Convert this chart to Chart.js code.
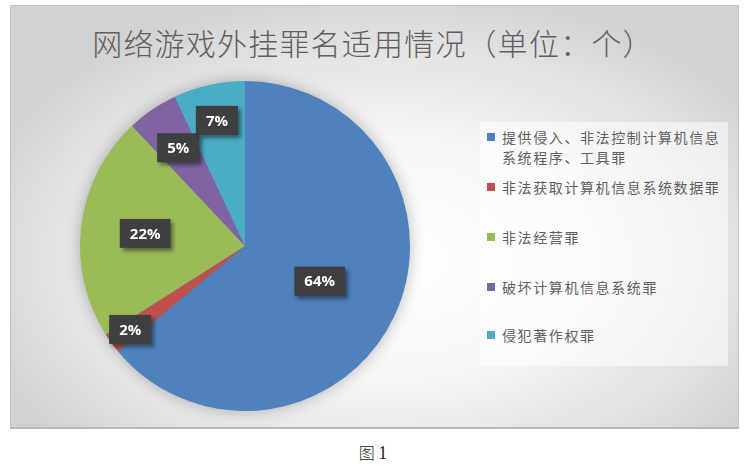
<!DOCTYPE html>
<html>
<head>
    <meta charset="utf-8">
    <title>网络游戏外挂罪名适用情况</title>
    <script src="https://cdn.jsdelivr.net/npm/chart.js"></script>
    <style>
        body {
            margin: 0;
            width: 746px;
            height: 469px;
            background: #fff;
            position: relative;
            overflow: hidden;
            font-family: "Noto Sans CJK SC", sans-serif;
        }
        .frame {
            position: absolute;
            left: 10px;
            top: 5px;
            width: 727px;
            height: 421px;
            border: 1px solid #c4c4c4;
            border-bottom: 2px solid #b8b8b8;
            background: radial-gradient(ellipse 60% 65% at 52% 60%, #ffffff 0%, #f6f6f6 45%, #e4e4e4 75%, #d2d2d2 100%);
        }
        .title {
            position: absolute;
            left: 0;
            width: 746px;
            top: 20px;
            text-align: center;
            font-size: 30px;
            letter-spacing: 1.2px;
            color: #5f5f5f;
            font-weight: 300;
        }
        .legend {
            position: absolute;
            left: 480px;
            top: 122px;
            width: 248px;
            height: 244px;
            background: rgba(255,255,255,0.55);
        }
        .legend-item {
            position: absolute;
            left: 22px;
            font-size: 14px;
            line-height: 20px;
            letter-spacing: 1.6px;
            color: #5f5f5f;
            width: 226px;
        }
        .legend-item i {
            position: absolute;
            left: -15px;
            top: 6px;
            width: 8px;
            height: 8px;
        }
        .caption {
            position: absolute;
            left: 0;
            width: 746px;
            top: 440px;
            text-align: center;
            font-size: 16px;
            font-weight: 300;
            color: #222;
        }
        .caption span { font-family: "Liberation Serif", serif; font-size: 18px; }
        #pie {
            position: absolute;
            left: 0;
            top: 0;
        }
    </style>
</head>
<body>
    <div class="frame"></div>
    <div class="title">网络游戏外挂罪名适用情况（单位：个）</div>
    <div class="legend" id="legend"></div>
    <div class="caption">图 <span>1</span></div>
    <canvas id="pie" width="746" height="469"></canvas>

    <script>
        const categories = ['提供侵入、非法控制计算机信息系统程序、工具罪', '非法获取计算机信息系统数据罪', '非法经营罪', '破坏计算机信息系统罪', '侵犯著作权罪'];
        const shares = [64, 2, 22, 5, 7];
        const colors = ['#4F81BD', '#C0504D', '#9BBB59', '#8064A2', '#4BACC6'];

        // where each data label sits, as a fraction of the radius (Excel best-fit look)
        const labelRadius = [0.5, 0.86, 0.61, 0.72, 0.78];
        const legendTops = [5, 55, 105, 155, 203];

        // html legend
        const legendEl = document.getElementById('legend');
        categories.forEach((c, i) => {
            const d = document.createElement('div');
            d.className = 'legend-item';
            d.style.top = legendTops[i] + 'px';
            d.innerHTML = '<i style="background:' + colors[i] + '"></i>' + c;
            legendEl.appendChild(d);
        });

        const pieShadow = {
            id: 'pieShadow',
            beforeDatasetsDraw(chart) {
                const arc = chart.getDatasetMeta(0).data[0];
                const ctx = chart.ctx;
                ctx.save();
                ctx.shadowColor = 'rgba(0,0,0,0.3)';
                ctx.shadowBlur = 16;
                ctx.fillStyle = '#4F81BD';
                ctx.beginPath();
                ctx.arc(arc.x, arc.y, arc.outerRadius - 1, 0, Math.PI * 2);
                ctx.fill();
                ctx.restore();
            }
        };

        const boxLabels = {
            id: 'boxLabels',
            afterDatasetsDraw(chart) {
                const ctx = chart.ctx;
                const meta = chart.getDatasetMeta(0);
                ctx.save();
                ctx.font = 'bold 15px "Open Sans", "DejaVu Sans", sans-serif';
                ctx.textAlign = 'center';
                ctx.textBaseline = 'middle';
                meta.data.forEach((arc, i) => {
                    const mid = (arc.startAngle + arc.endAngle) / 2;
                    const r = arc.outerRadius * labelRadius[i];
                    const x = arc.x + Math.cos(mid) * r;
                    const y = arc.y + Math.sin(mid) * r;
                    const text = shares[i] + '%';
                    const w = ctx.measureText(text).width + 20;
                    const h = 29;
                    ctx.shadowColor = 'rgba(0,0,0,0.45)';
                    ctx.shadowBlur = 4;
                    ctx.shadowOffsetX = 3;
                    ctx.shadowOffsetY = 3;
                    ctx.fillStyle = '#3f3f3f';
                    ctx.fillRect(x - w / 2, y - h / 2, w, h);
                    ctx.shadowColor = 'transparent';
                    ctx.fillStyle = '#ffffff';
                    ctx.fillText(text, x, y + 1);
                });
                ctx.restore();
            }
        };

        new Chart(document.getElementById('pie'), {
            type: 'pie',
            data: {
                labels: categories,
                datasets: [{
                    data: shares,
                    backgroundColor: colors,
                    borderWidth: 0
                }]
            },
            options: {
                responsive: false,
                animation: false,
                layout: {
                    padding: { left: 80, right: 336, top: 81, bottom: 58 }
                },
                plugins: {
                    legend: { display: false },
                    title: { display: false },
                    tooltip: { enabled: false }
                }
            },
            plugins: [pieShadow, boxLabels]
        });
    </script>
</body>
</html>
